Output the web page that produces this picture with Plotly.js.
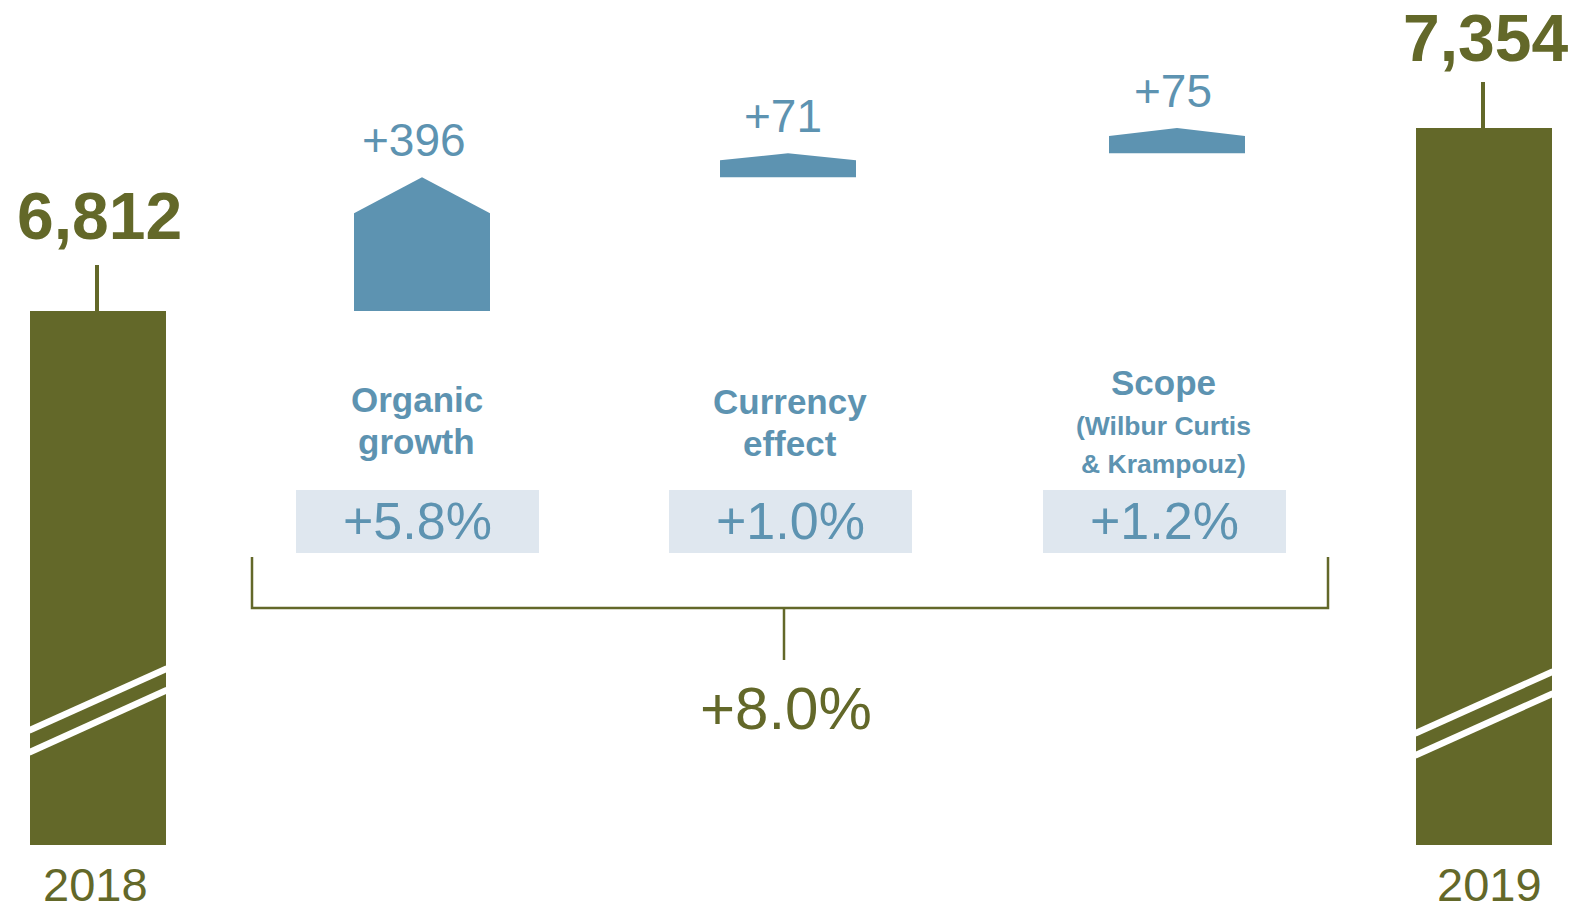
<!DOCTYPE html>
<html>
<head>
<meta charset="utf-8">
<script src="https://cdn.plot.ly/plotly-3.0.1.min.js"></script>
<style>html,body{margin:0;padding:0;background:#fff;}#chart{width:1578px;height:909px;}</style>
</head>
<body>
<div id="chart"></div>
<script>
// ---------- DATA ----------
const yearLabels = ['2018', '2019'];
const totals = [6812, 7354];
const totalLabels = ['6,812', '7,354'];
const stepNames = ['Organic growth', 'Currency effect', 'Scope'];
const stepLines = [['Organic', 'growth'], ['Currency', 'effect'], ['Scope', '(Wilbur Curtis', '& Krampouz)']];
const stepValues = [396, 71, 75];
const stepLabels = ['+396', '+71', '+75'];
const stepPct = ['+5.8%', '+1.0%', '+1.2%'];
const totalPct = '+8.0%';

// ---------- STYLE / LAYOUT ----------
const W = 1578, H = 909;
const OLIVE = '#636829', BLUE = '#5d93b1', BOX = '#dfe7ef';
const FONT = '"Liberation Sans", Arial, Helvetica, sans-serif';
const PPU = 0.3376;                 // pixels per unit (broken axis)
const V0 = 6812 + 311 / PPU;        // value at top pixel row
const V1 = V0 - H / PPU;            // value at bottom pixel row
const BASE = V0 - 845 / PPU;        // visible base of the broken bars
function py(px) { return V0 - px / PPU; }   // pixel row -> axis value
function toPx(v) { return (V0 - v) * PPU; } // axis value -> pixel row

const yearX = [98, 1484];
const stepX = [422, 788, 1177];
const barW = 136;
const headPx = [36, 7, 8];
const stepLabelX = [414, 783, 1173];
const boxX = [417.5, 790.5, 1164.5];
const catLineY = [[399, 441], [401, 443], [382, 426, 464]];
const catLineSize = [[35, 35], [35, 35], [35, 26.5, 26.5]];

// ---------- TRACES ----------
const traces = [];
traces.push({
  type: 'bar', x: yearX, y: totals.map(v => v - BASE), base: totals.map(() => BASE),
  width: barW, marker: {color: OLIVE, line: {width: 0}}, hoverinfo: 'skip', showlegend: false
});

let cum = totals[0];
const tips = [];
stepValues.forEach((d, i) => {
  const y0 = cum, y1 = cum + d;
  const h = headPx[i] / PPU;
  const cx = stepX[i], hw = barW / 2;
  traces.push({
    type: 'scatter', mode: 'lines', fill: 'toself', fillcolor: BLUE,
    x: [cx - hw, cx + hw, cx + hw, cx, cx - hw, cx - hw],
    y: [y0, y0, y1 - h, y1, y1 - h, y0],
    line: {width: 0, color: BLUE}, hoverinfo: 'skip', showlegend: false, name: stepNames[i]
  });
  tips.push(y1);
  cum = y1;
});

// ---------- ANNOTATIONS ----------
const ann = [];
function txt(x, ypx, text, size, color, bold) {
  ann.push({x: x, y: py(ypx), xref: 'x', yref: 'y', text: bold ? '<b>' + text + '</b>' : text,
    showarrow: false, xanchor: 'center', yanchor: 'middle', borderpad: 0,
    font: {family: FONT, size: size, color: color}});
}
// totals
totals.forEach((v, i) => {
  const topPx = toPx(v);
  txt(yearX[i] + 1, topPx - (i === 0 ? 95 : 90), totalLabels[i], 66, OLIVE, true);
  txt(yearX[i] + (i === 0 ? -3 : 5), 884, yearLabels[i], 47, OLIVE, false);
});
// steps
stepValues.forEach((d, i) => {
  txt(stepLabelX[i], toPx(tips[i]) - 37, stepLabels[i], 46, BLUE, false);
  stepLines[i].forEach((line, j) => txt(boxX[i] - 1, catLineY[i][j], line, catLineSize[i][j], BLUE, true));
  txt(boxX[i], 521, stepPct[i], 52, BLUE, false);
});
txt(786, 708, totalPct, 60, OLIVE, false);

// ---------- SHAPES ----------
const shapes = [];
boxX.forEach(cx => shapes.push({type: 'rect', xref: 'x', yref: 'y', x0: cx - 121.5, x1: cx + 121.5,
  y0: py(553), y1: py(490), fillcolor: BOX, line: {width: 0}, layer: 'below'}));
// leader lines above totals
totals.forEach((v, i) => {
  const t = toPx(v);
  shapes.push({type: 'line', xref: 'x', yref: 'y', x0: yearX[i] - 1, x1: yearX[i] - 1,
    y0: py(t - 46), y1: v, line: {color: OLIVE, width: 4}});
});
// axis-break marks
const breaks = [[[730.5, 668.5], [752.5, 690]], [[733.5, 671.5], [755.5, 693.5]]];
yearX.forEach((cx, i) => {
  breaks[i].forEach(b => shapes.push({type: 'line', xref: 'x', yref: 'y',
    x0: cx - barW / 2 - 1, x1: cx + barW / 2 + 1, y0: py(b[0]), y1: py(b[1]),
    line: {color: '#ffffff', width: 6.5}}));
});
// bracket
shapes.push({type: 'path', xref: 'x', yref: 'y',
  path: 'M252,' + py(557) + ' L252,' + py(608) + ' L1328,' + py(608) + ' L1328,' + py(557),
  line: {color: OLIVE, width: 2.5}});
shapes.push({type: 'line', xref: 'x', yref: 'y', x0: 784, x1: 784, y0: py(608), y1: py(660),
  line: {color: OLIVE, width: 2.5}});

const layout = {
  width: W, height: H, margin: {l: 0, r: 0, t: 0, b: 0, pad: 0},
  paper_bgcolor: '#ffffff', plot_bgcolor: '#ffffff', showlegend: false,
  xaxis: {range: [0, W], visible: false, fixedrange: true},
  yaxis: {range: [V1, V0], visible: false, fixedrange: true},
  annotations: ann, shapes: shapes, bargap: 0
};
Plotly.newPlot('chart', traces, layout, {displayModeBar: false, staticPlot: true});
</script>
</body>
</html>
